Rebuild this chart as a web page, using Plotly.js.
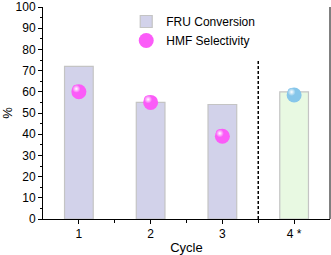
<!DOCTYPE html>
<html><head><meta charset="utf-8">
<script src="https://cdn.plot.ly/plotly-3.0.1.min.js"></script>
<style>html,body{margin:0;padding:0;background:#fff}#c{width:331px;height:255px}</style>
</head><body><div id="c"></div>
<script>
const cycles = [1, 2, 3, 4];
const tickLabels = ["1", "2", "3", "4 *"];
const conversion = [72, 55, 54, 60];
const selectivity = [60, 55, 39, 58.5];
const yTicks = [0, 10, 20, 30, 40, 50, 60, 70, 80, 90, 100];
const barColors = ["#d2d2ea", "#d2d2ea", "#d2d2ea", "#e8f9e2"];
const dotColors = ["#fb5cf8", "#fb5cf8", "#fb5cf8", "#86c6ea"];

const font = {family: "Liberation Sans, Arial, sans-serif", size: 12, color: "#000"};
const traces = [
  {type: "bar", x: cycles, y: conversion, width: 0.4, name: "FRU Conversion",
   marker: {color: barColors, line: {color: "#c4c4c4", width: 1.2}}},
  {type: "scatter", mode: "markers", x: cycles, y: selectivity, name: "HMF Selectivity",
   marker: {size: 15, color: dotColors, line: {width: 0}}},
  {type: "scatter", mode: "markers", x: cycles, y: selectivity, xaxis: "x2", yaxis: "y2",
   showlegend: false, hoverinfo: "skip",
   marker: {size: 8, color: dotColors, gradient: {type: "radial", color: "#ffffff"}, line: {width: 0}}}
];
const layout = {
  width: 331, height: 255,
  margin: {l: 43, r: 1, t: 7, b: 36},
  paper_bgcolor: "#fff", plot_bgcolor: "#fff",
  font: font,
  showlegend: true,
  legend: {x: 0.29, y: 1.0, xanchor: "left", yanchor: "top", bgcolor: "rgba(0,0,0,0)",
           font: {family: font.family, size: 12}, tracegroupgap: 0, itemwidth: 30},
  xaxis: {range: [0.5, 4.5], tickmode: "array", tickvals: cycles, ticktext: tickLabels,
          showline: true, linecolor: "#000", linewidth: 1, ticks: "outside", ticklen: 4,
          tickcolor: "#000", showgrid: false, zeroline: false,
          minor: {tickvals: [1.5, 2.5, 3.5], ticks: "outside", ticklen: 3, tickcolor: "#000"},
          title: {text: "Cycle", font: {family: font.family, size: 13}, standoff: 4}},
  yaxis: {range: [0, 100], tickmode: "array", tickvals: yTicks, ticktext: yTicks.map(String),
          showline: true, linecolor: "#000", linewidth: 1,
          ticks: "outside", ticklen: 4, tickcolor: "#000", showgrid: false, zeroline: false,
          minor: {dtick: 5, ticks: "outside", ticklen: 2, tickcolor: "#000"},
          title: {text: "%", font: {family: font.family, size: 13}, standoff: 8}},
  xaxis2: {overlaying: "x", range: [0.535, 4.535], visible: false, showgrid: false, zeroline: false},
  yaxis2: {overlaying: "y", range: [-1.4, 98.6], visible: false, showgrid: false, zeroline: false},
  shapes: [
    {type: "line", xref: "paper", yref: "paper", x0: 1, x1: 1, y0: 0, y1: 1,
     line: {color: "#000", width: 1}},
    {type: "line", xref: "x", yref: "y", x0: 3.5, x1: 3.5, y0: 0, y1: 75,
     line: {color: "#000", width: 1.5, dash: "3px,2px"}}
  ]
};
Plotly.newPlot("c", traces, layout, {staticPlot: true, displayModeBar: false});
</script></body></html>
